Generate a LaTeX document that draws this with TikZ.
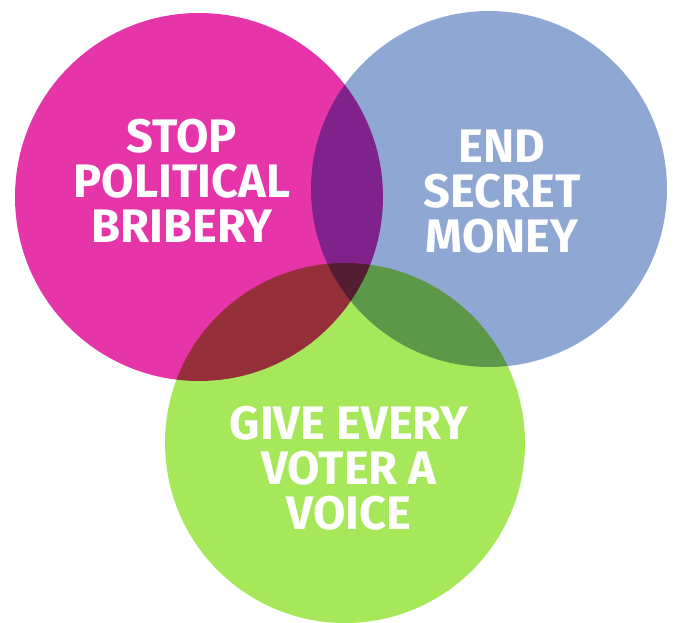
\documentclass[tikz,border=0pt]{standalone}
\usepackage{fontspec}
\setmainfont{Fira Sans}
\usepackage{tikz}

\definecolor{bribery}{HTML}{E535A8}
\definecolor{money}{HTML}{8FA7D3}
\definecolor{voice}{HTML}{A6E85A}

\begin{document}
\begin{tikzpicture}[x=1pt,y=-1pt,
  aim/.style={text=white,align=center,inner sep=0pt,
    font=\bfseries\fontsize{47}{45}\selectfont}]
\useasboundingbox (0,0) rectangle (673,623);
\begin{scope}[blend group=multiply]
\fill[bribery] (199,197) circle[radius=184];
\fill[money] (489,189) circle[radius=178];
\fill[voice] (345,443) circle[radius=180];
\end{scope}
\node[aim] (stop) at (182,181) {STOP\\POLITICAL\\BRIBERY};
\node[aim] (end) at (502,192) {END\\SECRET\\MONEY};
\node[aim] (give) at (349,468) {GIVE EVERY\\VOTER A\\VOICE};
\end{tikzpicture}
\end{document}
